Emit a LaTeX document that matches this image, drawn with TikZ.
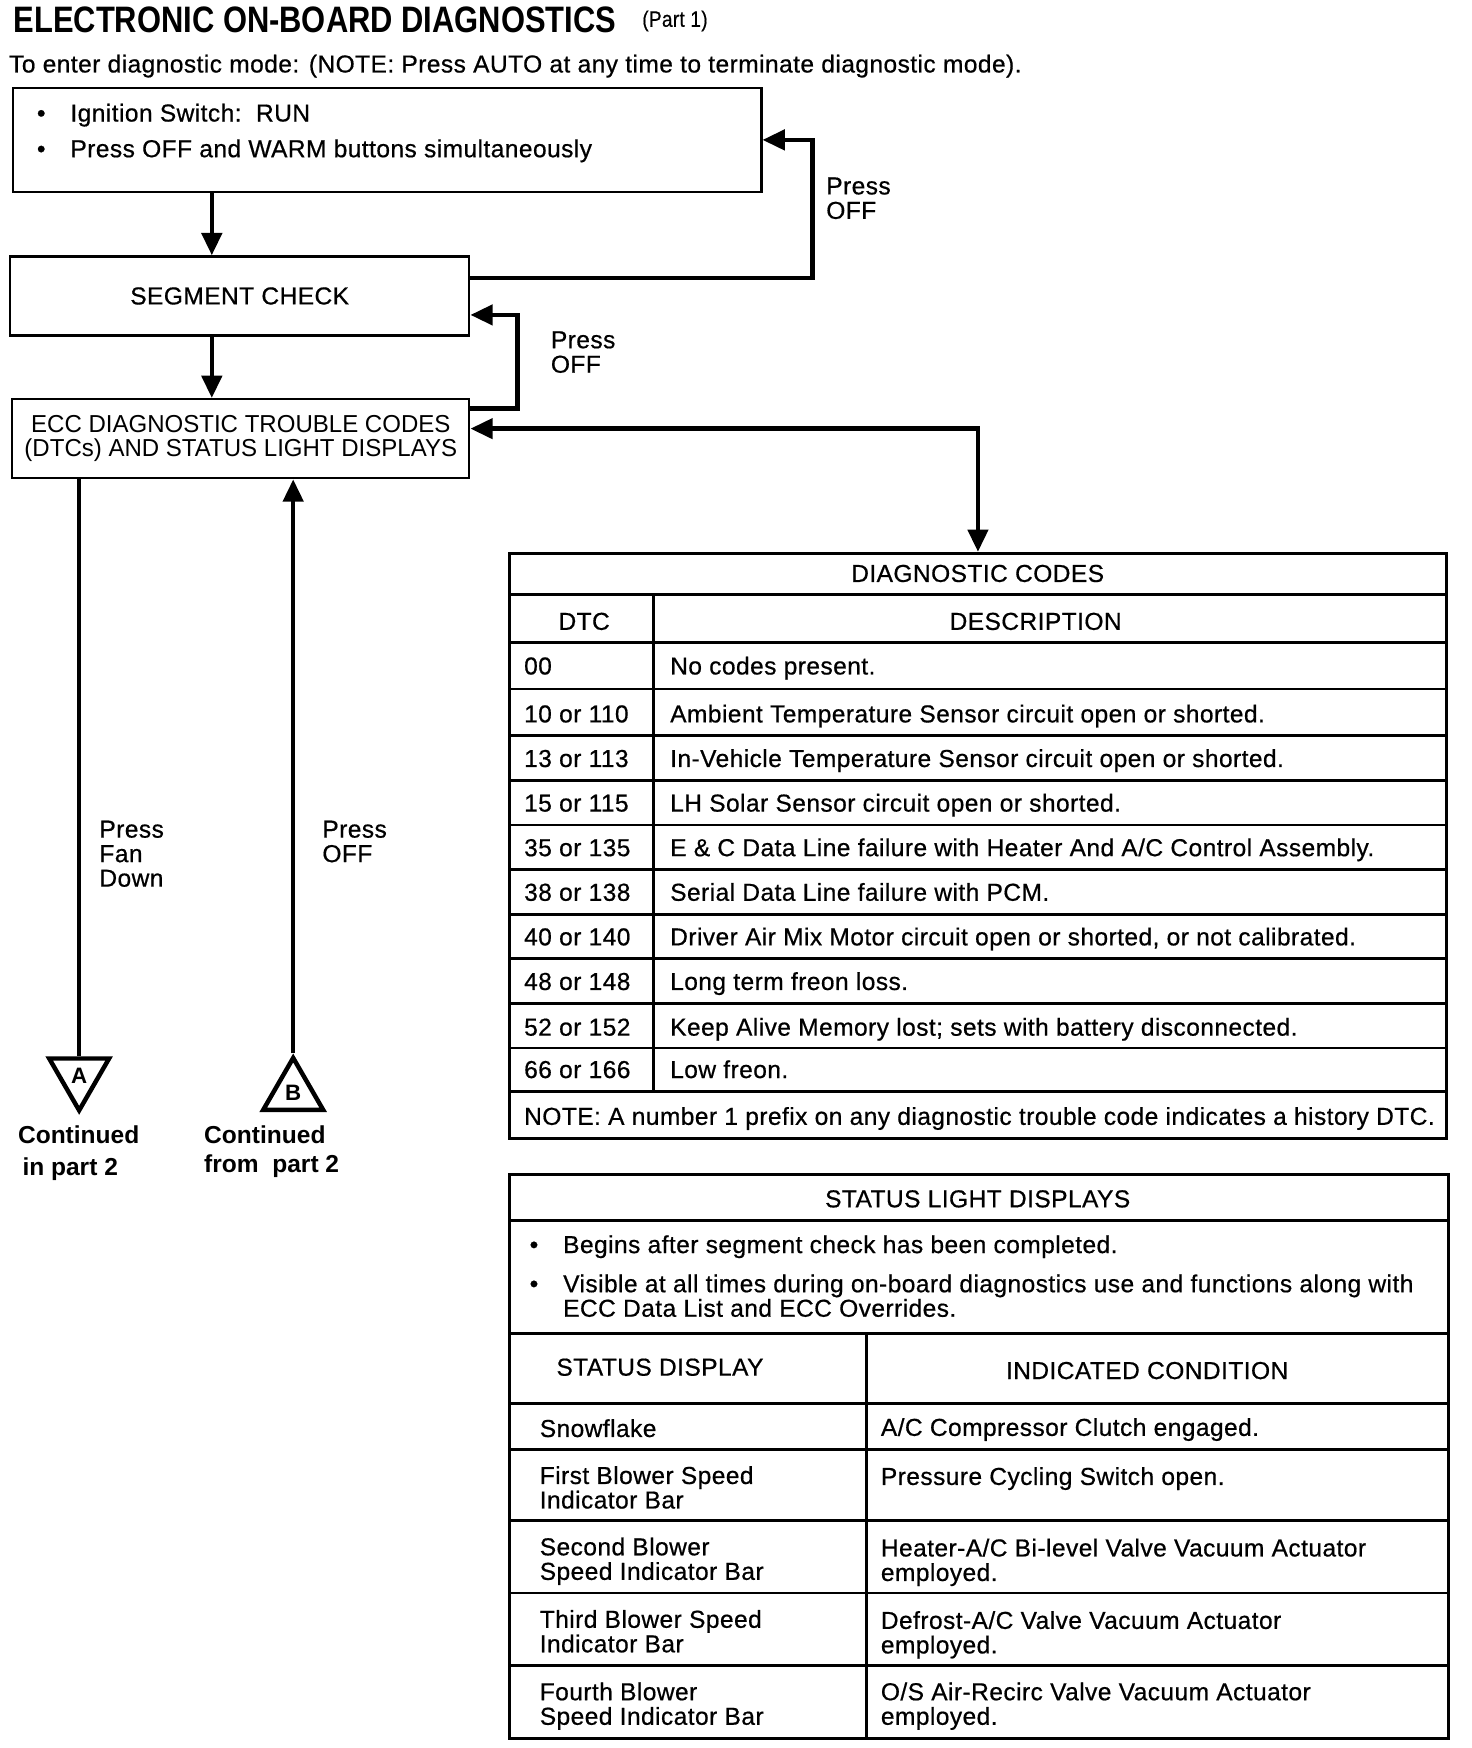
\documentclass[tikz,border=0pt]{standalone}
\usepackage{fontspec}
\usepackage{graphicx}
\setmainfont{Liberation Sans}[FakeBold=0.6,LetterSpace=1.8]
\newfontfamily\titlefont{Liberation Sans}
\usetikzlibrary{arrows.meta}
\usetikzlibrary{shapes.geometric}
\newcommand{\txt}{\fontsize{22pt}{22pt}\selectfont}

\begin{document}
\begin{tikzpicture}[x=1pt,y=-1pt,
    box/.style={draw,line width=2pt,inner sep=0pt,font=\txt,align=center},
    flow/.style={line width=4pt,-{Triangle[length=20pt,width=18pt]}},
    twoway/.style={line width=4pt,{Triangle[length=20pt,width=18pt]}-{Triangle[length=20pt,width=18pt]}},
    feed/.style={line width=4pt},
    tabline/.style={line width=2.5pt},
    lbl/.style={inner sep=0pt,font=\txt,text height=16pt,text depth=0pt,anchor=west},
    ctext/.style={inner sep=0pt,font=\txt,text height=16pt,text depth=0pt},
    multi/.style={inner sep=0pt,font=\txt,align=left,anchor=north west},
    tri/.style={draw,line width=4pt,regular polygon,regular polygon sides=3,minimum size=62pt,inner sep=0pt,font=\titlefont\fontsize{20pt}{20pt}\selectfont\bfseries}]

    \useasboundingbox (0,0) rectangle (1320,1568);

    \node[inner sep=0pt,anchor=base west] (title) at (12,29) {\scalebox{0.84}[1]{\titlefont\fontsize{33pt}{33pt}\selectfont\bfseries ELECTRONIC ON-BOARD DIAGNOSTICS}};
    \node[inner sep=0pt,anchor=base west] (part) at (576,24) {\scalebox{0.85}[1]{\fontsize{20pt}{20pt}\selectfont (Part 1)}};
    \node[lbl] (intro) at (8,57) {To enter diagnostic mode: (NOTE: Press AUTO at any time to terminate diagnostic mode).};

    \node[box,anchor=north west,minimum width=671pt,minimum height=93pt] (start) at (11,78) {};
    \node[lbl,anchor=center] (dot1) at (37,101) {\textbullet};
    \node[lbl] (ign) at (63,101) {Ignition Switch:\ \ RUN};
    \node[lbl,anchor=center] (dot2) at (37,133) {\textbullet};
    \node[lbl] (warm) at (63,133) {Press OFF and WARM buttons simultaneously};

    \node[box,anchor=north west,minimum width=412pt,minimum height=71pt] (seg) at (8,229) {SEGMENT CHECK};
    \node[box,font=\titlefont\txt,anchor=north west,minimum width=410pt,minimum height=71pt] (ecc) at (10,357) {\scalebox{0.98}[1]{ECC DIAGNOSTIC TROUBLE CODES}\\\scalebox{0.98}[1]{(DTCs) AND STATUS LIGHT DISPLAYS}};

    \draw[flow] (start.south -| 190,0) -- (seg.north -| 190,0);
    \draw[flow] (seg.south -| 190,0) -- (ecc.north -| 190,0);
    \draw[flow] ([yshift=16pt]seg.east) -- ++(307,0) |- (start.east);
    \draw[flow] ([yshift=27pt]ecc.east) -- ++(42,0) |- ([yshift=-17pt]seg.east);

    \node[multi] (off1) at (741,159) {Press\\OFF};
    \node[multi] (off2) at (494,297) {Press\\OFF};

    \node[tri,shape border rotate=180] (triA) at (71,965) {A};
    \node[tri] (triB) at (263,980) {B};
    \draw[feed] (ecc.south -| triA.north) -- (triA.north);
    \draw[flow] (triB.north) -- (triB.north |- ecc.south);

    \node[multi] (fan) at (89,736) {Press\\Fan\\Down};
    \node[multi] (off3) at (289,736) {Press\\OFF};
    \node[multi,font=\titlefont\txt\bfseries] (contA) at (16,1010) {Continued\\[6pt]\hspace*{4pt}in part 2};
    \node[multi,font=\titlefont\txt\bfseries] (contB) at (183,1010) {Continued\\[4pt]from\ \ part 2};

    \node[box,line width=2.5pt,anchor=north west,minimum width=840pt,minimum height=525pt] (codes) at (456,495) {};
    \draw[twoway] ([yshift=9pt]ecc.east) -| (codes.north);

    \draw[tabline] (456,533) -- (1296,533);
    \draw[tabline] (456,576) -- (1296,576);
    \draw[tabline] (456,618) -- (1296,618);
    \draw[tabline] (456,660) -- (1296,660);
    \draw[tabline] (456,700) -- (1296,700);
    \draw[tabline] (456,740) -- (1296,740);
    \draw[tabline] (456,780) -- (1296,780);
    \draw[tabline] (456,820) -- (1296,820);
    \draw[tabline] (456,860) -- (1296,860);
    \draw[tabline] (456,900) -- (1296,900);
    \draw[tabline] (456,940) -- (1296,940);
    \draw[tabline] (456,979) -- (1296,979);
    \draw[tabline] (586,533) -- (586,979);

    \node[ctext] (codeshead) at (877,514) {DIAGNOSTIC CODES};
    \node[ctext] (dtchead) at (524,557) {DTC};
    \node[ctext] (deschead) at (929,557) {DESCRIPTION};

    \node[lbl] (c00) at (470,597) {00};
    \node[lbl] (d00) at (601,597) {No codes present.};
    \node[lbl] (c10) at (470,640) {10 or 110};
    \node[lbl] (d10) at (601,640) {Ambient Temperature Sensor circuit open or shorted.};
    \node[lbl] (c13) at (470,680) {13 or 113};
    \node[lbl] (d13) at (601,680) {In-Vehicle Temperature Sensor circuit open or shorted.};
    \node[lbl] (c15) at (470,720) {15 or 115};
    \node[lbl] (d15) at (601,720) {LH Solar Sensor circuit open or shorted.};
    \node[lbl] (c35) at (470,760) {35 or 135};
    \node[lbl] (d35) at (601,760) {E \& C Data Line failure with Heater And A/C Control Assembly.};
    \node[lbl] (c38) at (470,800) {38 or 138};
    \node[lbl] (d38) at (601,800) {Serial Data Line failure with PCM.};
    \node[lbl] (c40) at (470,840) {40 or 140};
    \node[lbl] (d40) at (601,840) {Driver Air Mix Motor circuit open or shorted, or not calibrated.};
    \node[lbl] (c48) at (470,880) {48 or 148};
    \node[lbl] (d48) at (601,880) {Long term freon loss.};
    \node[lbl] (c52) at (470,921) {52 or 152};
    \node[lbl] (d52) at (601,921) {Keep Alive Memory lost; sets with battery disconnected.};
    \node[lbl] (c66) at (470,959) {66 or 166};
    \node[lbl] (d66) at (601,959) {Low freon.};
    \node[lbl] (note) at (470,1001) {NOTE: A number 1 prefix on any diagnostic trouble code indicates a history DTC.};

    \node[box,line width=2.5pt,anchor=north west,minimum width=842pt,minimum height=506pt] (status) at (456,1052) {};
    \draw[tabline] (456,1095) -- (1298,1095);
    \draw[tabline] (456,1196) -- (1298,1196);
    \draw[tabline] (456,1259) -- (1298,1259);
    \draw[tabline] (456,1300) -- (1298,1300);
    \draw[tabline] (456,1364) -- (1298,1364);
    \draw[tabline] (456,1429) -- (1298,1429);
    \draw[tabline] (456,1494) -- (1298,1494);
    \draw[tabline] (777,1196) -- (777,1558);

    \node[ctext] (statushead) at (877,1075) {STATUS LIGHT DISPLAYS};
    \node[lbl,anchor=center] (dot3) at (479,1116) {\textbullet};
    \node[lbl] (begins) at (505,1116) {Begins after segment check has been completed.};
    \node[lbl,anchor=center] (dot4) at (479,1151) {\textbullet};
    \node[multi] (visible) at (505,1143) {Visible at all times during on-board diagnostics use and functions along with\\ECC Data List and ECC Overrides.};

    \node[ctext] (disphead) at (592,1226) {STATUS DISPLAY};
    \node[ctext] (condhead) at (1029,1229) {INDICATED CONDITION};

    \node[lbl] (s1) at (484,1281) {Snowflake};
    \node[lbl] (i1) at (790,1280) {A/C Compressor Clutch engaged.};
    \node[multi] (s2) at (484,1315) {First Blower Speed\\Indicator Bar};
    \node[lbl] (i2) at (790,1324) {Pressure Cycling Switch open.};
    \node[multi] (s3) at (484,1379) {Second Blower\\Speed Indicator Bar};
    \node[multi] (i3) at (790,1380) {Heater-A/C Bi-level Valve Vacuum Actuator\\employed.};
    \node[multi] (s4) at (484,1444) {Third Blower Speed\\Indicator Bar};
    \node[multi] (i4) at (790,1445) {Defrost-A/C Valve Vacuum Actuator\\employed.};
    \node[multi] (s5) at (484,1509) {Fourth Blower\\Speed Indicator Bar};
    \node[multi] (i5) at (790,1509) {O/S Air-Recirc Valve Vacuum Actuator\\employed.};

\end{tikzpicture}
\end{document}
